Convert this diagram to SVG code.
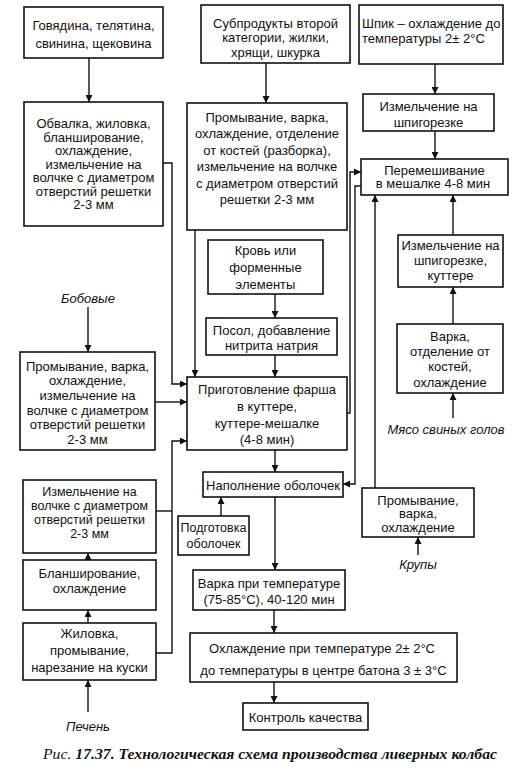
<svg xmlns="http://www.w3.org/2000/svg" width="519" height="779" viewBox="0 0 519 779">
<style>
rect.b{fill:#fff;stroke:#111;stroke-width:1.6}
text{font-family:"Liberation Sans",Arial,sans-serif;font-size:13px;fill:#111}
text.c{text-anchor:middle}
text.s{font-size:12.5px}
text.i{font-style:italic;text-anchor:middle}
#connectors path{fill:none;stroke:#111;stroke-width:1.4}
text.cap{font-family:"Liberation Serif","Times New Roman",serif;font-size:14px;font-style:italic;font-weight:bold}
</style>
<defs>
<marker id="ah" viewBox="0 0 10 10" refX="10" refY="5" markerWidth="8" markerHeight="7" markerUnits="userSpaceOnUse" orient="auto">
<path d="M0,0 L10,5 L0,10 z" fill="#111"/>
</marker>
</defs>
<rect width="519" height="779" fill="#fff"/>

<g id="connectors">
<path d="M89,58 V102" marker-end="url(#ah)"/>
<path d="M163,163 H172 V384 H187" marker-end="url(#ah)"/>
<path d="M88,307 V352" marker-end="url(#ah)"/>
<path d="M155,402 H187" marker-end="url(#ah)"/>
<path d="M156,653 H172 V441 H187" marker-end="url(#ah)"/>
<path d="M156,511 H172"/>
<path d="M88,712 V680" marker-end="url(#ah)"/>
<path d="M88,623 V610" marker-end="url(#ah)"/>
<path d="M88,560 V553" marker-end="url(#ah)"/>
<path d="M266,63 V103" marker-end="url(#ah)"/>
<path d="M195,230 V377" marker-end="url(#ah)"/>
<path d="M275,294 V318" marker-end="url(#ah)"/>
<path d="M275,355 V377" marker-end="url(#ah)"/>
<path d="M347,413 H350 V172 H361" marker-end="url(#ah)"/>
<path d="M361,186 H355 V484 H343" marker-end="url(#ah)"/>
<path d="M275,450 V472" marker-end="url(#ah)"/>
<path d="M221,516 V497" marker-end="url(#ah)"/>
<path d="M275,497 V570" marker-end="url(#ah)"/>
<path d="M274,610 V633" marker-end="url(#ah)"/>
<path d="M274,682 V703" marker-end="url(#ah)"/>
<path d="M435,64 V94" marker-end="url(#ah)"/>
<path d="M435,131 V159" marker-end="url(#ah)"/>
<path d="M375,488 V195" marker-end="url(#ah)"/>
<path d="M453,235 V195" marker-end="url(#ah)"/>
<path d="M453,324 V287" marker-end="url(#ah)"/>
<path d="M453,418 V393" marker-end="url(#ah)"/>
<path d="M418,555 V537" marker-end="url(#ah)"/>
</g>

<g id="n1"><rect class="b" x="24" y="7" width="139" height="51"/>
<text class="c" x="93.5" y="29.5">Говядина, телятина,</text>
<text class="c" x="93.5" y="47.5">свинина, щековина</text></g>

<g id="n2"><rect class="b" x="24" y="102" width="139" height="124"/>
<text class="c" x="93.5" y="128">Обвалка, жиловка,</text>
<text class="c" x="93.5" y="141.5">бланширование,</text>
<text class="c" x="93.5" y="155">охлаждение,</text>
<text class="c" x="93.5" y="168.5">измельчение на</text>
<text class="c" x="93.5" y="182">волчке с диаметром</text>
<text class="c" x="93.5" y="195.5">отверстий решетки</text>
<text class="c" x="93.5" y="209">2-3 мм</text></g>

<g id="n3"><rect class="b" x="201" y="5" width="149" height="58"/>
<text class="c" x="275.5" y="27.5">Субпродукты второй</text>
<text class="c" x="275.5" y="42">категории, жилки,</text>
<text class="c" x="275.5" y="56.5">хрящи, шкурка</text></g>

<g id="n4"><rect class="b" x="187" y="103" width="160" height="127"/>
<text class="c" x="267" y="121.5">Промывание, варка,</text>
<text class="c" x="267" y="138">охлаждение, отделение</text>
<text class="c" x="267" y="154.5">от костей (разборка),</text>
<text class="c" x="267" y="171">измельчение на волчке</text>
<text class="c" x="267" y="187.5">с диаметром отверстий</text>
<text class="c" x="267" y="204">решетки 2-3 мм</text></g>

<g id="n5"><rect class="b" x="208" y="240" width="115" height="54"/>
<text class="c" x="265.5" y="254.5">Кровь или</text>
<text class="c" x="265.5" y="272">форменные</text>
<text class="c" x="265.5" y="289">элементы</text></g>

<g id="n6"><rect class="b" x="206" y="318" width="131" height="37"/>
<text class="c" x="271.5" y="334.5">Посол, добавление</text>
<text class="c" x="271.5" y="349.5">нитрита натрия</text></g>

<g id="n7"><rect class="b" x="187" y="377" width="160" height="73"/>
<text class="c" x="267" y="393.5">Приготовление фарша</text>
<text class="c" x="267" y="411">в куттере,</text>
<text class="c" x="267" y="427.5">куттере-мешалке</text>
<text class="c" x="267" y="444">(4-8 мин)</text></g>

<g id="n8"><rect class="b" x="203" y="472" width="140" height="25"/>
<text class="c" x="273" y="489.5">Наполнение оболочек</text></g>

<g id="n9"><rect class="b" x="178" y="516" width="71" height="39"/>
<text class="c s" x="213.5" y="531.5">Подготовка</text>
<text class="c s" x="213.5" y="548">оболочек</text></g>

<g id="n10"><rect class="b" x="193" y="570" width="152" height="40"/>
<text class="c" x="269" y="588">Варка при температуре</text>
<text class="c" x="269" y="604">(75-85°С), 40-120 мин</text></g>

<g id="n11"><rect class="b" x="190" y="633" width="267" height="49"/>
<text class="c" x="322" y="652.5">Охлаждение при температуре  2± 2°С</text>
<text class="c" x="323.5" y="674.5">до температуры в центре батона  3 ± 3°С</text></g>

<g id="n12"><rect class="b" x="243" y="703" width="125" height="27"/>
<text class="c" x="305.5" y="721.5">Контроль качества</text></g>

<g id="n13"><rect class="b" x="359" y="5" width="144" height="59"/>
<text x="362" y="28">Шпик – охлаждение до</text>
<text x="362" y="43">температуры 2± 2°С</text></g>

<g id="n14"><rect class="b" x="363" y="94" width="131" height="37"/>
<text class="c" x="428.5" y="110.5">Измельчение на</text>
<text class="c" x="428.5" y="126.5">шпигорезке</text></g>

<g id="n15"><rect class="b" x="361" y="159" width="147" height="36"/>
<text class="c" x="434.5" y="174.5">Перемешивание</text>
<text class="c" x="433" y="188">в мешалке 4-8 мин</text></g>

<g id="n16"><rect class="b" x="398" y="235" width="105" height="52"/>
<text class="c" x="450.5" y="249.5">Измельчение на</text>
<text class="c" x="450.5" y="264.5">шпигорезке,</text>
<text class="c" x="450.5" y="279.5">куттере</text></g>

<g id="n17"><rect class="b" x="397" y="324" width="106" height="69"/>
<text class="c" x="450" y="341">Варка,</text>
<text class="c" x="450" y="356">отделение от</text>
<text class="c" x="450" y="371">костей,</text>
<text class="c" x="450" y="386.5">охлаждение</text></g>

<g id="n18"><text class="i" x="446" y="434">Мясо свиных голов</text></g>

<g id="n19"><rect class="b" x="362" y="488" width="112" height="49"/>
<text class="c" x="418" y="504.5">Промывание,</text>
<text class="c" x="418" y="518">варка,</text>
<text class="c" x="418" y="531.5">охлаждение</text></g>

<g id="n20"><text class="i" x="418" y="569">Крупы</text></g>

<g id="n21"><text class="i" x="88" y="303">Бобовые</text></g>

<g id="n22"><rect class="b" x="20" y="352" width="135" height="98"/>
<text class="c" x="87.5" y="370.5">Промывание, варка,</text>
<text class="c" x="87.5" y="385">охлаждение,</text>
<text class="c" x="87.5" y="399.5">измельчение на</text>
<text class="c" x="87.5" y="414.5">волчке с диаметром</text>
<text class="c" x="87.5" y="429">отверстий решетки</text>
<text class="c" x="87.5" y="443.5">2-3 мм</text></g>

<g id="n23"><rect class="b" x="23" y="480" width="133" height="73"/>
<text class="c s" x="89.5" y="496">Измельчение на</text>
<text class="c s" x="89.5" y="510">волчке с диаметром</text>
<text class="c s" x="89.5" y="524">отверстий решетки</text>
<text class="c s" x="89.5" y="538">2-3 мм</text></g>

<g id="n24"><rect class="b" x="23" y="560" width="133" height="50"/>
<text class="c" x="89.5" y="578">Бланширование,</text>
<text class="c" x="89.5" y="593">охлаждение</text></g>

<g id="n25"><rect class="b" x="23" y="623" width="133" height="57"/>
<text class="c" x="89.5" y="637.5">Жиловка,</text>
<text class="c" x="89.5" y="654.5">промывание,</text>
<text class="c" x="89.5" y="671.5">нарезание на куски</text></g>

<g id="n26"><text class="i" x="88" y="731">Печень</text></g>

<text x="43" y="759" class="cap" textLength="454" lengthAdjust="spacingAndGlyphs"><tspan font-weight="normal">Рис. </tspan>17.37. Технологическая схема производства ливерных колбас</text>
</svg>
